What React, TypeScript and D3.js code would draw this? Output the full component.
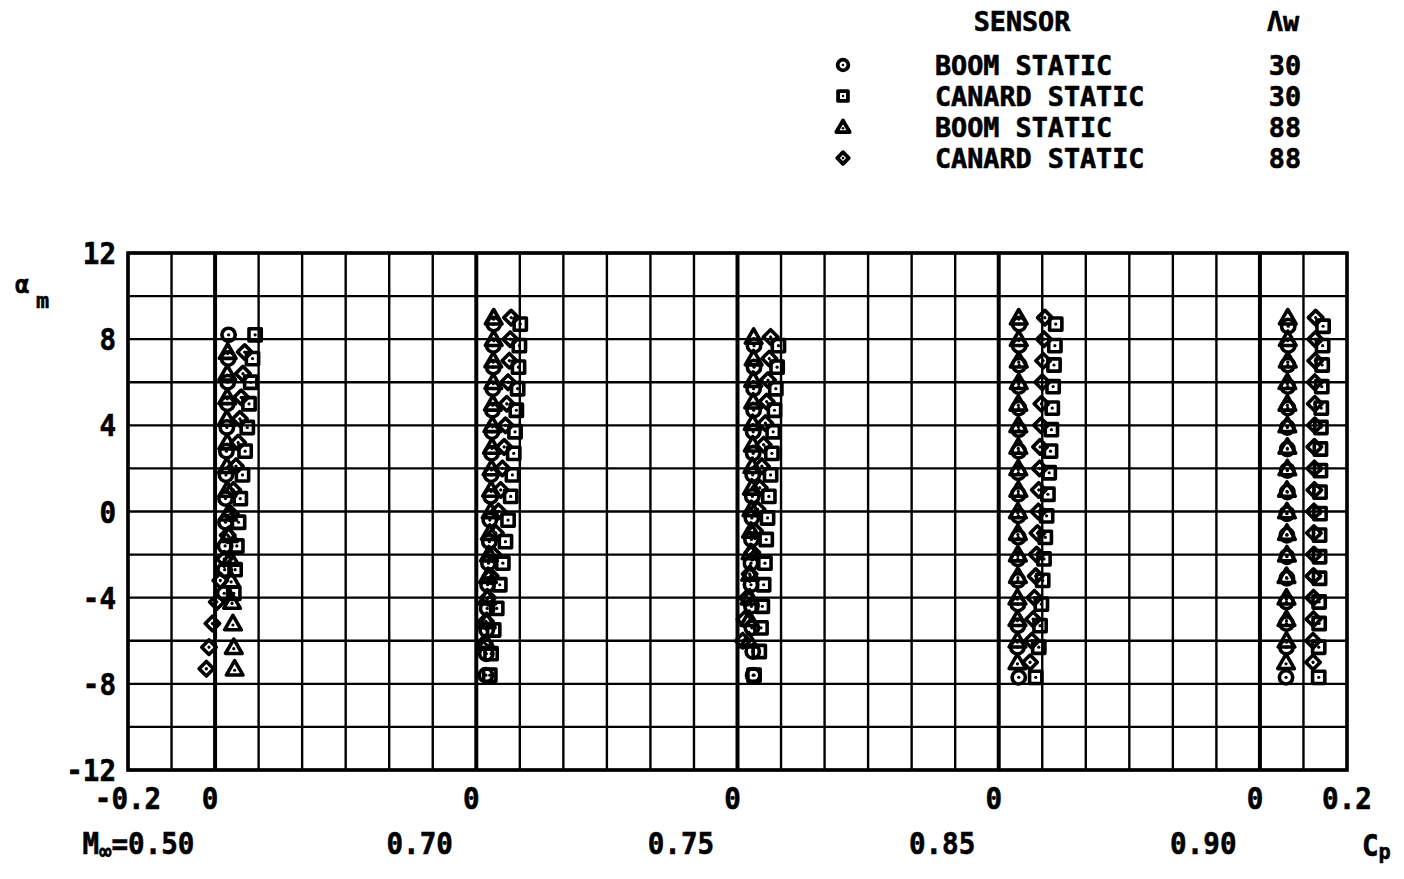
import React from "react";
import * as d3 from "d3";

// ---- figure data -------------------------------------------------------
const MACH_LABELS = ["0.50", "0.70", "0.75", "0.85", "0.90"];
// each Mach block is drawn 0.6 Cp units to the right of the previous one
const MACH_OFFSETS = [0, 0.6, 1.2, 1.8, 2.4];

const SENSOR_NAMES = ["BOOM STATIC", "CANARD STATIC", "BOOM STATIC", "CANARD STATIC"];
const SWEEP_LABELS = ["30", "30", "88", "88"];
const SYMBOL_KINDS = ["circle", "square", "triangle", "diamond"];

const Y_TICKS = [12, 8, 4, 0, -4, -8, -12];
const X_TICK_POS = [-0.2, 0, 0.6, 1.2, 1.8, 2.4, 2.6];
const X_TICK_LABELS = ["-0.2", "0", "0", "0", "0", "0", "0.2"];

// M = 0.50
const alpha30_050 = [8.2, 7.1, 6.0, 5.0, 3.9, 2.8, 1.7, 0.6, -0.5, -1.6, -2.7, -3.8];
const boom30_050 = [0.031, 0.030, 0.029, 0.028, 0.027, 0.026, 0.025, 0.024, 0.024, 0.023, 0.022, 0.021];
const canard30_050 = [0.092, 0.086, 0.082, 0.078, 0.074, 0.069, 0.063, 0.058, 0.054, 0.050, 0.046, 0.043];
const alpha88_050 = [7.4, 6.4, 5.3, 4.3, 3.2, 2.1, 1.0, -0.1, -1.1, -2.2, -3.2, -4.2, -5.2, -6.3, -7.3];
const boom88_050 = [0.029, 0.028, 0.028, 0.027, 0.028, 0.027, 0.028, 0.030, 0.032, 0.035, 0.037, 0.039, 0.041, 0.043, 0.045];
const canard88_050 = [0.068, 0.064, 0.060, 0.057, 0.053, 0.048, 0.042, 0.036, 0.029, 0.021, 0.012, 0.004, -0.006, -0.014, -0.020];

// M = 0.70
const alpha30_070 = [8.7, 7.7, 6.7, 5.7, 4.7, 3.7, 2.7, 1.7, 0.7, -0.4, -1.4, -2.4, -3.4, -4.5, -5.5, -6.6, -7.6];
const boom30_070 = [0.040, 0.039, 0.039, 0.038, 0.037, 0.036, 0.035, 0.034, 0.033, 0.031, 0.030, 0.028, 0.026, 0.025, 0.024, 0.023, 0.022];
const canard30_070 = [0.101, 0.099, 0.097, 0.095, 0.092, 0.089, 0.086, 0.083, 0.079, 0.073, 0.067, 0.061, 0.054, 0.047, 0.040, 0.034, 0.031];
const alpha88_070 = [9.0, 8.0, 7.0, 6.0, 5.0, 4.0, 3.0, 2.0, 1.0, 0.0, -1.0, -2.0, -3.0, -4.0, -5.1, -6.1];
const boom88_070 = [0.040, 0.040, 0.039, 0.039, 0.038, 0.037, 0.036, 0.035, 0.034, 0.033, 0.031, 0.029, 0.027, 0.025, 0.024, 0.023];
const canard88_070 = [0.080, 0.078, 0.076, 0.073, 0.070, 0.067, 0.064, 0.060, 0.056, 0.051, 0.045, 0.039, 0.033, 0.027, 0.022, 0.019];

// M = 0.75
const alpha30_075 = [7.7, 6.7, 5.7, 4.7, 3.7, 2.7, 1.7, 0.7, -0.3, -1.3, -2.4, -3.4, -4.4, -5.4, -6.5, -7.6];
const boom30_075 = [0.038, 0.038, 0.037, 0.037, 0.036, 0.036, 0.035, 0.034, 0.033, 0.032, 0.031, 0.031, 0.032, 0.033, 0.035, 0.036];
const canard30_075 = [0.094, 0.091, 0.088, 0.085, 0.082, 0.079, 0.076, 0.072, 0.069, 0.066, 0.063, 0.060, 0.057, 0.054, 0.050, 0.038];
const alpha88_075 = [8.1, 7.1, 6.1, 5.1, 4.1, 3.1, 2.1, 1.1, 0.1, -0.9, -1.9, -2.9, -4.0, -5.0, -6.0];
const boom88_075 = [0.037, 0.037, 0.036, 0.036, 0.035, 0.035, 0.034, 0.033, 0.032, 0.031, 0.030, 0.029, 0.028, 0.027, 0.026];
const canard88_075 = [0.076, 0.073, 0.070, 0.067, 0.064, 0.060, 0.056, 0.051, 0.046, 0.040, 0.034, 0.028, 0.022, 0.016, 0.012];

// M = 0.85
const alpha30_085 = [8.7, 7.7, 6.8, 5.8, 4.8, 3.8, 2.8, 1.8, 0.8, -0.2, -1.2, -2.2, -3.2, -4.3, -5.3, -6.3, -7.7];
const boom30_085 = [0.047, 0.047, 0.047, 0.046, 0.046, 0.046, 0.046, 0.045, 0.045, 0.045, 0.045, 0.044, 0.044, 0.044, 0.044, 0.043, 0.046];
const canard30_085 = [0.131, 0.129, 0.127, 0.125, 0.123, 0.121, 0.119, 0.116, 0.113, 0.110, 0.107, 0.104, 0.101, 0.098, 0.095, 0.092, 0.085];
const alpha88_085 = [9.0, 8.0, 7.0, 6.0, 5.0, 4.0, 3.0, 2.0, 1.0, 0.0, -1.0, -2.0, -3.0, -4.0, -5.0, -6.0, -7.0];
const boom88_085 = [0.046, 0.046, 0.046, 0.046, 0.045, 0.045, 0.045, 0.045, 0.045, 0.044, 0.044, 0.044, 0.044, 0.043, 0.043, 0.043, 0.043];
const canard88_085 = [0.106, 0.104, 0.102, 0.100, 0.098, 0.097, 0.095, 0.094, 0.092, 0.091, 0.089, 0.087, 0.085, 0.082, 0.079, 0.076, 0.072];

// M = 0.90
const alpha30_090 = [8.6, 7.7, 6.8, 5.8, 4.8, 3.9, 2.9, 1.9, 0.9, -0.1, -1.1, -2.1, -3.1, -4.2, -5.2, -6.3, -7.7];
const boom30_090 = [0.065, 0.065, 0.064, 0.064, 0.064, 0.063, 0.063, 0.063, 0.063, 0.062, 0.062, 0.062, 0.062, 0.061, 0.061, 0.061, 0.060];
const canard30_090 = [0.145, 0.144, 0.143, 0.142, 0.141, 0.140, 0.139, 0.139, 0.138, 0.138, 0.137, 0.137, 0.137, 0.136, 0.136, 0.135, 0.135];
const alpha88_090 = [9.0, 8.0, 7.0, 6.0, 5.0, 4.0, 3.0, 2.0, 1.0, 0.0, -1.0, -2.0, -3.0, -4.0, -5.0, -6.0, -7.0];
const boom88_090 = [0.064, 0.064, 0.064, 0.063, 0.063, 0.063, 0.063, 0.063, 0.062, 0.062, 0.062, 0.062, 0.061, 0.061, 0.061, 0.061, 0.060];
const canard88_090 = [0.128, 0.127, 0.127, 0.126, 0.126, 0.126, 0.125, 0.125, 0.125, 0.124, 0.124, 0.124, 0.123, 0.123, 0.123, 0.122, 0.122];

// one row per Mach number: [alpha30, boom30, canard30, alpha88, boom88, canard88]
const BLOCKS = [
  [alpha30_050, boom30_050, canard30_050, alpha88_050, boom88_050, canard88_050],
  [alpha30_070, boom30_070, canard30_070, alpha88_070, boom88_070, canard88_070],
  [alpha30_075, boom30_075, canard30_075, alpha88_075, boom88_075, canard88_075],
  [alpha30_085, boom30_085, canard30_085, alpha88_085, boom88_085, canard88_085],
  [alpha30_090, boom30_090, canard30_090, alpha88_090, boom88_090, canard88_090],
];

// ---- layout ------------------------------------------------------------
const W = 1404;
const H = 879;
const FONT = "'DejaVu Sans Mono', monospace";

const x = d3.scaleLinear().domain([-0.2, 2.6]).range([128, 1347]);
const y = d3.scaleLinear().domain([-12, 12]).range([770, 253]);

const gridX = d3.range(0, 29).map((i) => +(-0.2 + i * 0.1).toFixed(2));
const gridY = d3.range(-12, 13, 2);

const SYMBOL_AREA: Record<string, number> = { circle: 140, square: 150, triangle: 120, diamond: 105 };

const symbolPath = (kind: string, k: number) => {
  const area = SYMBOL_AREA[kind] * k * k;
  if (kind === "circle") return d3.symbol(d3.symbolCircle, area)()!;
  if (kind === "triangle") return d3.symbol(d3.symbolTriangle, area)()!;
  return d3.symbol(d3.symbolSquare, area)()!;
};

function Marker({ kind, cx, cy, sw = 3.6, k = 1 }: { kind: string; cx: number; cy: number; sw?: number; k?: number }) {
  const rot = kind === "diamond" ? " rotate(45)" : "";
  const dy = kind === "triangle" ? 1.5 * k : 0;
  return (
    <g transform={`translate(${cx},${cy + dy})${rot}`}>
      <path d={symbolPath(kind, k)} fill="none" stroke="#000" strokeWidth={sw} strokeLinejoin="round" />
      <circle r={1.6 * k} fill="#000" />
    </g>
  );
}

// plotter-style lettering: monospace bold, slightly narrowed and inked
function Label({ x: lx, y: ly, anchor = "start", size = 30, sx = 0.92, children }: any) {
  return (
    <text
      transform={`translate(${lx},${ly}) scale(${sx},1)`}
      textAnchor={anchor}
      fontFamily={FONT}
      fontWeight="bold"
      fontSize={size}
      fill="#000"
      stroke="#000"
      strokeWidth={0.6}
    >
      {children}
    </text>
  );
}

export default function App() {
  const points: { kind: string; cp: number; a: number }[] = [];
  BLOCKS.forEach((b, m) => {
    const off = MACH_OFFSETS[m];
    const [a30, bm30, cn30, a88, bm88, cn88] = b;
    a30.forEach((a, i) => points.push({ kind: "circle", cp: off + bm30[i], a }));
    a30.forEach((a, i) => points.push({ kind: "square", cp: off + cn30[i], a }));
    a88.forEach((a, i) => points.push({ kind: "triangle", cp: off + bm88[i], a }));
    a88.forEach((a, i) => points.push({ kind: "diamond", cp: off + cn88[i], a }));
  });

  const legendRowY = [65, 96, 127, 158];

  return (
    <svg
      width={W}
      height={H}
      viewBox={`0 0 ${W} ${H}`}
      style={{ position: "absolute", left: 0, top: 0, background: "#fff" }}
    >
      <rect width={W} height={H} fill="#fff" />

      {/* legend */}
      <Label x={1022} y={31} anchor="middle" size={26} sx={1.03}>SENSOR</Label>
      <Label x={1283} y={31} anchor="middle" size={26} sx={1.03}>Λw</Label>
      {SENSOR_NAMES.map((s, i) => (
        <g key={"lg" + i}>
          <Marker kind={SYMBOL_KINDS[i]} cx={843} cy={legendRowY[i]} sw={3.8} k={0.8} />
          <Label x={935} y={legendRowY[i] + 10} size={26} sx={1.03}>{s}</Label>
          <Label x={1301} y={legendRowY[i] + 10} anchor="end" size={26} sx={1.03}>{SWEEP_LABELS[i]}</Label>
        </g>
      ))}

      {/* grid */}
      {gridY.map((v) => (
        <line key={"gy" + v} x1={x(-0.2)} x2={x(2.6)} y1={y(v)} y2={y(v)} stroke="#000" strokeWidth={2.4} />
      ))}
      {gridX.map((v) => {
        const zero = MACH_OFFSETS.some((o) => Math.abs(o - v) < 1e-6);
        return (
          <line
            key={"gx" + v}
            x1={x(v)}
            x2={x(v)}
            y1={y(12)}
            y2={y(-12)}
            stroke="#000"
            strokeWidth={zero ? 4 : 2.4}
          />
        );
      })}
      <rect
        x={x(-0.2)}
        y={y(12)}
        width={x(2.6) - x(-0.2)}
        height={y(-12) - y(12)}
        fill="none"
        stroke="#000"
        strokeWidth={3.6}
      />

      {/* y axis */}
      {Y_TICKS.map((t) => (
        <Label key={"yt" + t} x={116} y={y(t) + 11} anchor="end">{t < 0 ? "-" + Math.abs(t) : String(t)}</Label>
      ))}
      <text x={15} y={293} fontFamily={FONT} fontWeight="bold" fontSize={24} stroke="#000" strokeWidth={0.5}>α</text>
      <text x={36} y={308} fontFamily={FONT} fontWeight="bold" fontSize={22} stroke="#000" strokeWidth={0.5}>m</text>

      {/* x axis */}
      {X_TICK_POS.map((p, i) => (
        <Label key={"xt" + i} x={x(p) - (i === 0 || i === 6 ? 0 : 5)} y={809} anchor="middle">{X_TICK_LABELS[i]}</Label>
      ))}
      {MACH_LABELS.map((m, i) => {
        const cx = x(MACH_OFFSETS[i] - 0.13);
        if (i === 0) {
          return (
            <text
              key="ml0"
              transform={`translate(${cx + 36},854) scale(0.92,1)`}
              textAnchor="end"
              fontFamily={FONT}
              fontWeight="bold"
              fontSize={30}
              stroke="#000"
              strokeWidth={0.6}
            >
              M<tspan fontSize={22} dy={5}>∞</tspan>
              <tspan dy={-5}>={m}</tspan>
            </text>
          );
        }
        return (
          <Label key={"ml" + i} x={cx} y={854} anchor="middle">{m}</Label>
        );
      })}
      <text
        transform="translate(1362,856) scale(0.92,1)"
        fontFamily={FONT}
        fontWeight="bold"
        fontSize={30}
        stroke="#000"
        strokeWidth={0.6}
      >
        C<tspan fontSize={22} dy={3}>p</tspan>
      </text>

      {/* data */}
      {points.map((p, i) => (
        <Marker key={"pt" + i} kind={p.kind} cx={x(p.cp)} cy={y(p.a)} />
      ))}
    </svg>
  );
}
